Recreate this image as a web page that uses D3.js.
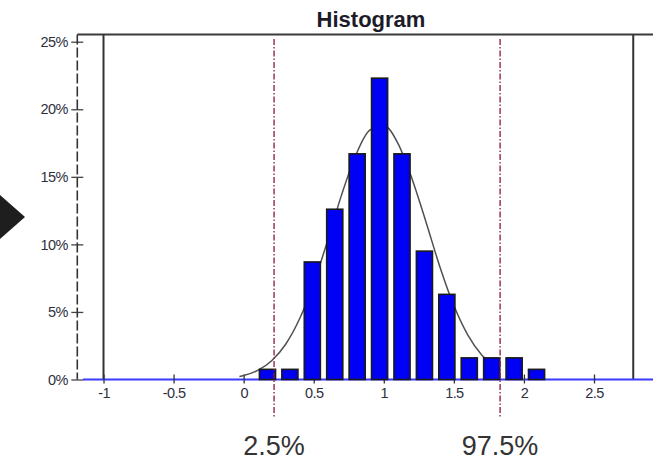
<!DOCTYPE html>
<html>
<head>
<meta charset="utf-8">
<script src="https://cdn.jsdelivr.net/npm/d3@7"></script>
<style>
  html, body { margin: 0; padding: 0; background: #fff; }
  svg { display: block; }
  text { font-family: Arial, "Liberation Sans", sans-serif; }
</style>
</head>
<body>
<svg id="chart" width="653" height="462"></svg>
<script>
// ---- data ----
const binCenters = [0.17, 0.33, 0.49, 0.65, 0.81, 0.97, 1.13, 1.29, 1.45, 1.61, 1.77, 1.93, 2.09];
const binPercents = [0.75, 0.75, 8.7, 12.6, 16.7, 22.3, 16.7, 9.5, 6.3, 1.6, 1.6, 1.6, 0.75];
const curveX = [-0.03, 0.0, 0.1, 0.2, 0.3, 0.4, 0.5, 0.6, 0.7, 0.8, 0.9, 1.0, 1.1, 1.2, 1.3, 1.4, 1.5, 1.6, 1.7, 1.8, 1.83];
const curveY = [0.23, 0.3, 0.67, 1.39, 2.61, 4.51, 7.13, 10.3, 13.7, 16.6, 18.45, 18.8, 17.5, 14.9, 11.7, 8.35, 5.47, 3.28, 1.8, 0.91, 0.73];
const xTickValues = [-1, -0.5, 0, 0.5, 1, 1.5, 2, 2.5];
const yTickValues = [0, 5, 10, 15, 20, 25];
const percentileValues = [0.217, 1.83];
const percentileLabels = ["2.5%", "97.5%"];
const boundaryValues = [-1, 2.78];
const titleText = "Histogram";

// ---- layout ----
const svg = d3.select("#chart");
const binWidth = 0.1594;
const barFrac = 0.72;

const x = d3.scaleLinear().domain([-1.187, 2.921]).range([77.3, 653]);
const y = d3.scaleLinear().domain([0, 25]).range([379.5, 41.7]);
const topY = 34.5;
const baseY = y(0);

// left arrow shape (decorative)
svg.append("path")
  .attr("d", "M0,195 L25,217 L0,239 Z")
  .attr("fill", "#1e1e1e");

// title
svg.append("text")
  .attr("x", 371).attr("y", 27)
  .attr("text-anchor", "middle")
  .attr("font-size", 22).attr("font-weight", "bold")
  .attr("fill", "#1c1c28")
  .text(titleText);

// top frame line
svg.append("line")
  .attr("x1", x.range()[0]).attr("x2", 653)
  .attr("y1", topY).attr("y2", topY)
  .attr("stroke", "#3a3a3a").attr("stroke-width", 2);

// boundary vertical lines (min/max)
svg.selectAll(".bound").data(boundaryValues).enter().append("line")
  .attr("x1", d => x(d)).attr("x2", d => x(d))
  .attr("y1", topY).attr("y2", baseY)
  .attr("stroke", "#333").attr("stroke-width", 2);

// y axis (dashed line with cross ticks)
const yAxis = svg.append("g")
  .attr("transform", `translate(${x.range()[0]},0)`)
  .call(d3.axisLeft(y).tickValues(yTickValues).tickFormat(d => d + "%").tickSize(6).tickPadding(4));
yAxis.select(".domain").remove();
yAxis.append("line")
  .attr("x1", 0).attr("x2", 0).attr("y1", topY).attr("y2", baseY)
  .attr("stroke", "#333").attr("stroke-width", 1.6)
  .attr("stroke-dasharray", "10,3");
yAxis.selectAll(".tick line").attr("x1", -6).attr("x2", 6)
  .attr("stroke", "#444").attr("stroke-width", 1.3);
yAxis.selectAll(".tick text")
  .attr("x", -9.5)
  .attr("font-size", 14.5)
  .attr("fill", "#2e3040")
  .attr("letter-spacing", "-0.6px")
  .attr("font-family", "Arial, 'Liberation Sans', sans-serif");

// baseline in blue
svg.append("line")
  .attr("x1", 83).attr("x2", 653)
  .attr("y1", baseY).attr("y2", baseY)
  .attr("stroke", "#3a3aff").attr("stroke-width", 2);

// x axis ticks & labels
const xAxis = svg.append("g")
  .attr("transform", `translate(0,${baseY})`)
  .call(d3.axisBottom(x).tickValues(xTickValues).tickFormat(d => String(d)).tickSize(4).tickPadding(4));
xAxis.select(".domain").remove();
xAxis.selectAll(".tick line").attr("y1", -5).attr("y2", 4)
  .attr("stroke", "#333").attr("stroke-width", 1.3);
xAxis.selectAll(".tick text")
  .attr("font-size", 14.5)
  .attr("fill", "#2e3040")
  .attr("letter-spacing", "-0.6px")
  .attr("font-family", "Arial, 'Liberation Sans', sans-serif");

// fitted curve (behind the bars)
const curvePts = curveX.map((cx, i) => [cx, curveY[i]]);
svg.append("path")
  .datum(curvePts)
  .attr("d", d3.line().x(d => x(d[0])).y(d => y(d[1])).curve(d3.curveMonotoneX))
  .attr("fill", "none")
  .attr("stroke", "#505050").attr("stroke-width", 1.5);

// bars
const bars = binCenters.map((c, i) => ({ c, v: binPercents[i] }));
svg.selectAll(".bar").data(bars).enter().append("rect")
  .attr("x", d => x(d.c - binWidth * barFrac / 2))
  .attr("width", d => x(d.c + binWidth * barFrac / 2) - x(d.c - binWidth * barFrac / 2))
  .attr("y", d => y(d.v))
  .attr("height", d => baseY - y(d.v))
  .attr("fill", "#0000f5")
  .attr("stroke", "#1a1a1a").attr("stroke-width", 1.6);

// percentile lines
svg.selectAll(".pct").data(percentileValues).enter().append("line")
  .attr("x1", d => x(d)).attr("x2", d => x(d))
  .attr("y1", 39).attr("y2", 417)
  .attr("stroke", "#8a1a3a").attr("stroke-width", 1.3)
  .attr("stroke-dasharray", "6,2,1.5,2");

// percentile labels
svg.selectAll(".pctLabel").data(percentileValues).enter().append("text")
  .attr("x", d => x(d)).attr("y", 455)
  .attr("text-anchor", "middle")
  .attr("font-size", 27)
  .attr("fill", "#333")
  .text((d, i) => percentileLabels[i]);
</script>
</body>
</html>
